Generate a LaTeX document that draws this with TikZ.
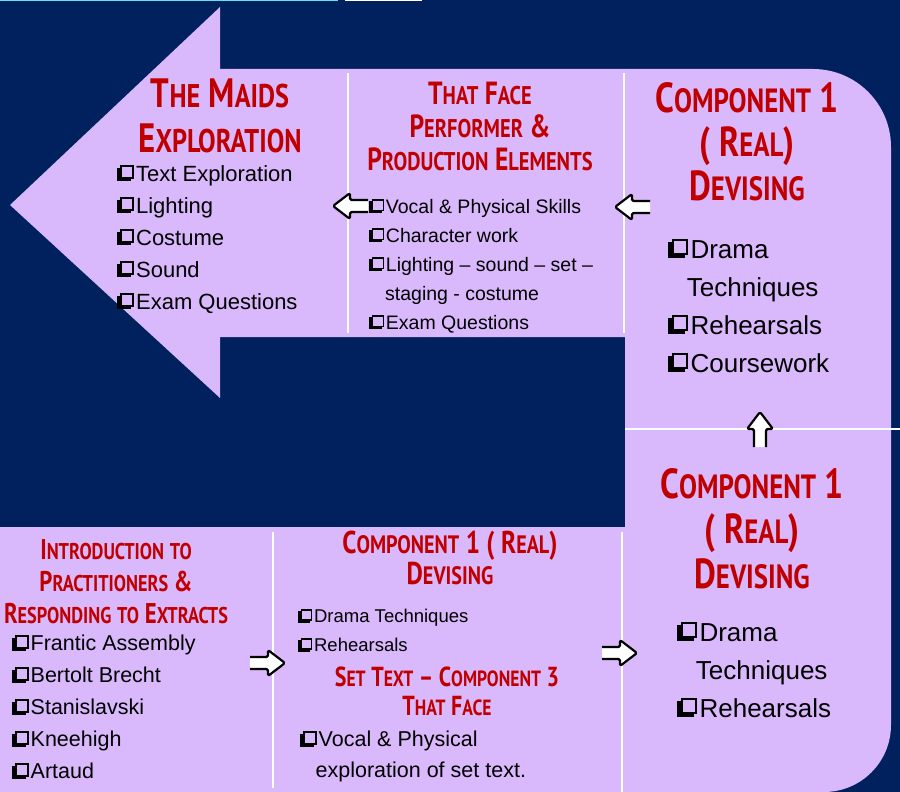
\documentclass[tikz,border=0pt]{standalone}
\usepackage{fontspec}
\setmainfont{Liberation Sans}
\newfontfamily\ttlfont{PT Sans}[FakeStretch=0.8]
\definecolor{navy}{RGB}{0,33,94}
\definecolor{lilac}{RGB}{218,184,252}
\definecolor{titlered}{RGB}{192,0,0}
\definecolor{stripcyan}{RGB}{100,226,232}
% shadowed check box and small capitals
\newcommand\bx{\leavevmode
	\rlap{\rule{0.64em}{0.62em}}%
	\rlap{\hspace{0.13em}\raisebox{0.11em}{\rule{0.64em}{0.62em}}}%
	\rlap{\hspace{0.21em}\raisebox{0.19em}{\color{lilac}\rule{0.48em}{0.46em}}}%
	\hspace{0.86em}}
\newcommand\ind[1][0.72em]{\hspace*{#1}}
\newcommand\sk[1]{\scalebox{0.8}{#1}}
\tikzset{
	title/.style 2 args={text=titlered, align=center, anchor=north, inner sep=0pt,
		font=\ttlfont\bfseries\fontsize{#1}{#2}\selectfont},
	items/.style 2 args={align=left, anchor=north west, inner sep=0pt,
		font=\fontsize{#1}{#2}\selectfont},
	divider/.style={white, line width=2.5pt},
	blockarrow/.pic={
		\fill[white] (0,6) -- (18,6) -- (18,13) -- (35,0) -- (18,-13) -- (18,-6) -- (0,-6) -- cycle;
		\draw[line width=2.2pt, rounded corners=1.5pt, line join=round]
			(0,6) -- (18,6) -- (18,13) -- (35,0) -- (18,-13) -- (18,-6) -- (0,-6);
	}
}
\begin{document}
\begin{tikzpicture}[x=1pt, y=-1pt]

		\useasboundingbox (0,0) rectangle (900,792);
		\fill[navy] (0,0) rectangle (900,792);
		\fill[stripcyan] (0,0) rectangle (338,1.5);
		\fill[white] (345,0) rectangle (422,1.5);

		% Band with the arrow head
		\fill[lilac] (10,205) -- (220,7) -- (220,69) -- (813,69)
			arc[start angle=270, end angle=360, radius=78] -- (891,725)
			arc[start angle=0, end angle=90, radius=67] -- (0,792) -- (0,527)
			-- (625,527) -- (625,337) -- (220,337) -- (220,398) -- cycle;

		% Dividers
		\draw[divider] (348,73) -- (348,333);
		\draw[divider] (624,73) -- (624,333);
		\draw[divider] (625,429) -- (900,429);
		\draw[divider] (273,532) -- (273,788);
		\draw[divider] (622,532) -- (622,792);

		% The Maids
		\node[title={41}{45}] (maidsT) at (220,79) {T\sk{HE} M\sk{AIDS}\\E\sk{XPLORATION}};
		\node[items={22}{32}] (maidsL) at (117,165) {\bx Text Exploration\\\bx Lighting\\\bx Costume\\\bx Sound\\\bx Exam Questions};

		% That Face
		\node[title={32}{33}] (faceT) at (480,82) {T\sk{HAT} F\sk{ACE}\\P\sk{ERFORMER} \&\\P\sk{RODUCTION} E\sk{LEMENTS}};
		\node[items={19.5}{29}] (faceL) at (369,199) {\bx Vocal \& Physical Skills\\\bx Character work\\\bx Lighting – sound – set –\\\ind[0.82em]staging - costume\\\bx Exam Questions};

		% Devising, top
		\node[title={42}{44}] (devT) at (747,82) {C\sk{OMPONENT} 1\\( R\sk{EAL})\\D\sk{EVISING}};
		\node[items={26}{38}] (devL) at (668,239) {\bx Drama\\\ind Techniques\\\bx Rehearsals\\\bx Coursework};

		% Devising, bottom
		\node[title={42}{45}] (devBT) at (752,468) {C\sk{OMPONENT} 1\\( R\sk{EAL})\\D\sk{EVISING}};
		\node[items={26}{38}] (devBL) at (677,622) {\bx Drama\\\ind Techniques\\\bx Rehearsals};

		% Practitioners
		\node[title={28.5}{32}] (pracT) at (116,539) {I\sk{NTRODUCTION} \sk{TO}\\P\sk{RACTITIONERS} \&\\R\sk{ESPONDING} \sk{TO} E\sk{XTRACTS}};
		\node[items={21.5}{32}] (pracL) at (12,635) {\bx Frantic Assembly\\\bx Bertolt Brecht\\\bx Stanislavski\\\bx Kneehigh\\\bx Artaud};

		% Component 1 and set text
		\node[title={31.5}{31}] (compT) at (450,531) {C\sk{OMPONENT} 1 ( R\sk{EAL})\\D\sk{EVISING}};
		\node[items={18.5}{29}] (compL) at (298,609) {\bx Drama Techniques\\\bx Rehearsals};
		\node[title={27.5}{29}] (setT) at (447,667) {S\sk{ET} T\sk{EXT} – C\sk{OMPONENT} 3\\T\sk{HAT} F\sk{ACE}};
		\node[items={21.5}{31}] (setL) at (300,731) {\bx Vocal \& Physical\\\ind exploration of set text.};

		% Arrows
		\pic[rotate=180] at (368,206) {blockarrow};
		\pic[rotate=180] at (650,207) {blockarrow};
		\pic[rotate=90] at (760,447) {blockarrow};
		\pic at (250,663) {blockarrow};
		\pic at (602,653) {blockarrow};

	\end{tikzpicture}
\end{document}
